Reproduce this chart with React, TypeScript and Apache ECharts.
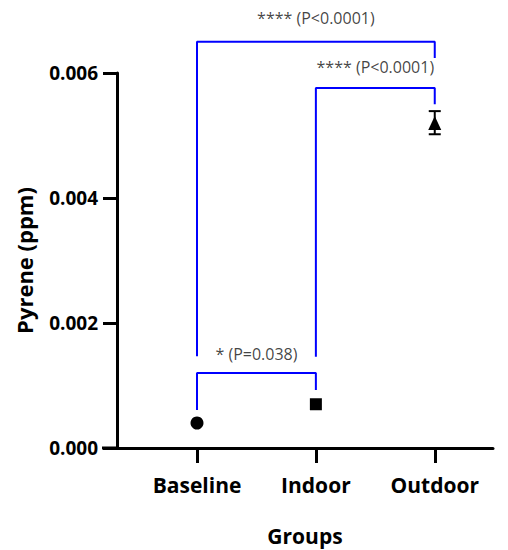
import React, { useEffect, useRef } from "react";
import * as echarts from "echarts";

const categories = ["Baseline", "Indoor", "Outdoor"];
const means = [0.0004, 0.0007, 0.0052];
const symbols = ["circle", "rect", "triangle"];
const errIndex = [2];
const errLow = [0.00502];
const errHigh = [0.00539];

// brackets: [fromIdx, toIdx, leftBottom, top, rightBottom]
const bracketFrom = [0, 1, 0];
const bracketTo = [2, 2, 1];
const bracketLeftEnd = [0.00147, 0.00146, 0.00061];
const bracketTop = [0.0065, 0.00576, 0.0012];
const bracketRightEnd = [0.00624, 0.0055, 0.00093];
const bracketLabels = ["**** (P<0.0001)", "**** (P<0.0001)", "* (P=0.038)"];
const labelX = [1, 1.5, 0.5];
const labelY = [0.00688, 0.0061, 0.0015];

const FONT = "Open Sans";
const W = 500;
const H = 542;
const GRID_LEFT = 109;
const GRID_BOTTOM = 102;

export default function App() {
  const ref = useRef<HTMLDivElement>(null);
  useEffect(() => {
    if (!ref.current) return;
    const chart = echarts.init(ref.current, undefined, { renderer: "svg" });

    const bracketSeries = bracketFrom.map((f, i) => ({
      type: "line",
      clip: false,
      symbol: "none",
      silent: true,
      lineStyle: { color: "#0000ff", width: 2 },
      data: [
        [f, bracketLeftEnd[i]],
        [f, bracketTop[i]],
        [bracketTo[i], bracketTop[i]],
        [bracketTo[i], bracketRightEnd[i]],
      ],
      z: 2,
    }));

    const option: any = {
      animation: false,
      grid: {
        left: GRID_LEFT,
        right: 15,
        top: 65,
        bottom: GRID_BOTTOM,
        containLabel: false,
        outerBoundsMode: "none",
      },
      graphic: [
        {
          type: "line",
          shape: { x1: GRID_LEFT - 15, y1: H - GRID_BOTTOM, x2: GRID_LEFT, y2: H - GRID_BOTTOM },
          style: { stroke: "#000", lineWidth: 3 },
        },
      ],
      xAxis: {
        type: "value",
        min: -0.673,
        max: 2.49,
        splitLine: { show: false },
        axisLine: { show: true, onZero: false, lineStyle: { color: "#000", width: 3 } },
        axisTick: {
          show: true,
          customValues: [0, 1, 2],
          length: 15,
          lineStyle: { color: "#000", width: 3 },
        },
        axisLabel: {
          customValues: [0, 1, 2],
          formatter: (v: number) => categories[Math.round(v)] ?? "",
          color: "#000",
          fontFamily: FONT,
          fontWeight: "bold",
          fontSize: 21,
          margin: 26,
        },
        name: "Groups",
        nameLocation: "middle",
        nameGap: 77,
        nameTextStyle: { color: "#000", fontFamily: FONT, fontWeight: "bold", fontSize: 21 },
      },
      yAxis: {
        type: "value",
        min: 0,
        max: 0.006,
        interval: 0.002,
        splitLine: { show: false },
        axisLine: { show: true, onZero: false, lineStyle: { color: "#000", width: 3 } },
        axisTick: { show: true, length: 14, lineStyle: { color: "#000", width: 3 } },
        axisLabel: {
          formatter: (v: number) => v.toFixed(3),
          color: "#000",
          fontFamily: FONT,
          fontWeight: "bold",
          fontSize: 19,
          margin: 19,
        },
        name: "Pyrene (ppm)",
        nameLocation: "middle",
        nameGap: 82,
        nameTextStyle: { color: "#000", fontFamily: FONT, fontWeight: "bold", fontSize: 22 },
      },
      series: [
        ...bracketSeries,
        {
          type: "scatter",
          clip: false,
          z: 5,
          data: means.map((m, i) => ({
            value: [i, m],
            symbol: symbols[i],
            symbolSize: symbols[i] === "triangle" ? [13, 14] : symbols[i] === "rect" ? 12 : 13,
          })),
          itemStyle: { color: "#000", opacity: 1 },
        },
        {
          type: "custom",
          clip: false,
          z: 4,
          data: errIndex.map((x, i) => [x, errLow[i], errHigh[i]]),
          renderItem: (params: any, api: any) => {
            const x = api.value(0);
            const lo = api.coord([x, api.value(1)]);
            const hi = api.coord([x, api.value(2)]);
            const w = 6;
            const style = { stroke: "#000", lineWidth: 2 };
            return {
              type: "group",
              children: [
                { type: "line", shape: { x1: lo[0], y1: lo[1], x2: hi[0], y2: hi[1] }, style },
                { type: "line", shape: { x1: lo[0] - w, y1: lo[1], x2: lo[0] + w, y2: lo[1] }, style },
                { type: "line", shape: { x1: hi[0] - w, y1: hi[1], x2: hi[0] + w, y2: hi[1] }, style },
              ],
            };
          },
        },
        {
          type: "scatter",
          clip: false,
          symbolSize: 0,
          silent: true,
          data: labelX.map((x, i) => ({ value: [x, labelY[i]], name: bracketLabels[i] })),
          label: {
            show: true,
            position: "inside",
            formatter: (p: any) => p.name,
            color: "#111",
            fontFamily: FONT,
            fontSize: 16,
          },
        },
      ],
    };
    chart.setOption(option);
    return () => chart.dispose();
  }, []);
  return <div ref={ref} style={{ width: W, height: H }} />;
}
